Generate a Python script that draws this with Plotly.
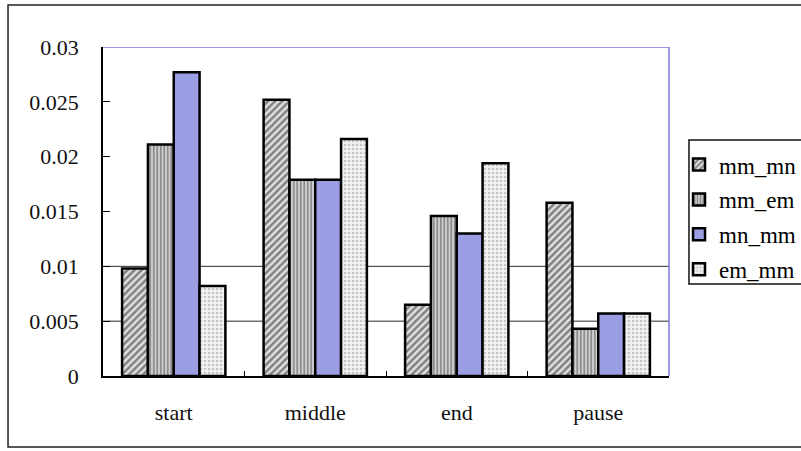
import plotly.graph_objects as go

categories = ["start", "middle", "end", "pause"]
series_names = ["mm_mn", "mm_em", "mn_mm", "em_mm"]
mm_mn = [0.0098, 0.0252, 0.0065, 0.0158]
mm_em = [0.0211, 0.0179, 0.0146, 0.0043]
mn_mm = [0.0277, 0.0179, 0.0130, 0.0057]
em_mm = [0.0082, 0.0216, 0.0194, 0.0057]
y_ticks = [0, 0.005, 0.01, 0.015, 0.02, 0.025, 0.03]
grid_values = [0.005, 0.01]

FONT = "Liberation Serif"
FS = 22

styles = [
    dict(color="#d8d8d8", pattern=dict(shape="/", fgcolor="#222222", bgcolor="#e0e0e0", size=5, solidity=0.5)),
    dict(color="#bdbdbd", pattern=dict(shape="|", fgcolor="#3a3a3a", bgcolor="#cfcfcf", size=3.5, solidity=0.45)),
    dict(color="#9c9ee4"),
    dict(color="#ededed", pattern=dict(shape=".", fgcolor="#9a9a9a", bgcolor="#f2f2f2", size=4, solidity=0.35)),
]

fig = go.Figure()
for i, (name, vals) in enumerate(zip(series_names, [mm_mn, mm_em, mn_mm, em_mm])):
    st = styles[i]
    marker = dict(color=st["color"], line=dict(color="black", width=2.5))
    if "pattern" in st:
        marker["pattern"] = st["pattern"]
    fig.add_trace(go.Bar(x=categories, y=vals, name=name, marker=marker, legendgroup=name))

shapes = []
for g in grid_values:
    shapes.append(dict(type="line", xref="paper", yref="y", x0=0, x1=1, y0=g, y1=g,
                       line=dict(color="#2a2a2a", width=1), layer="below"))
shapes.append(dict(type="line", xref="paper", yref="y", x0=0, x1=1, y0=y_ticks[-1], y1=y_ticks[-1],
                   line=dict(color="#7b7bdc", width=1.5), layer="below"))
shapes.append(dict(type="line", xref="paper", yref="paper", x0=1, x1=1, y0=0, y1=1,
                   line=dict(color="#7b7bdc", width=1.5), layer="below"))
# outer chart border
shapes.append(dict(type="rect", xref="paper", yref="paper", x0=-0.1678, x1=1.26, y0=-0.2158, y1=1.1277,
                   line=dict(color="#222", width=1.5), layer="below"))
# legend box border
shapes.append(dict(type="rect", xref="paper", yref="paper", x0=1.0353, x1=1.26, y0=0.2796, y1=0.7173,
                   line=dict(color="#111", width=1.5), layer="below"))

fig.update_layout(
    width=801, height=451,
    margin=dict(l=103, r=132, t=47, b=75, autoexpand=False),
    paper_bgcolor="white", plot_bgcolor="white",
    barmode="group", bargap=0.27, bargroupgap=0,
    font=dict(family=FONT, size=FS, color="#111"),
    shapes=shapes,
    showlegend=True,
    legend=dict(x=1.0177, y=0.708, xanchor="left", yanchor="top",
                borderwidth=0, bgcolor="rgba(0,0,0,0)",
                font=dict(family=FONT, size=23, color="#000"),
                tracegroupgap=2, traceorder="grouped", itemwidth=30),
    xaxis=dict(showline=True, linecolor="black", linewidth=1.5, ticks="inside", ticklen=5,
               tickcolor="black", tickson="boundaries", ticklabelstandoff=16, showgrid=False,
               tickfont=dict(family=FONT, size=FS)),
    yaxis=dict(range=[0, 0.03], tickvals=y_ticks, showline=True, linecolor="black", linewidth=1.5,
               ticks="inside", ticklen=7, tickcolor="black", showgrid=False, zeroline=False,
               ticklabelstandoff=18, tickfont=dict(family=FONT, size=FS)),
)

fig.write_html("out.html", config={"displayModeBar": False},
               post_script="document.body.style.margin='0px';document.body.style.overflow='hidden';")
